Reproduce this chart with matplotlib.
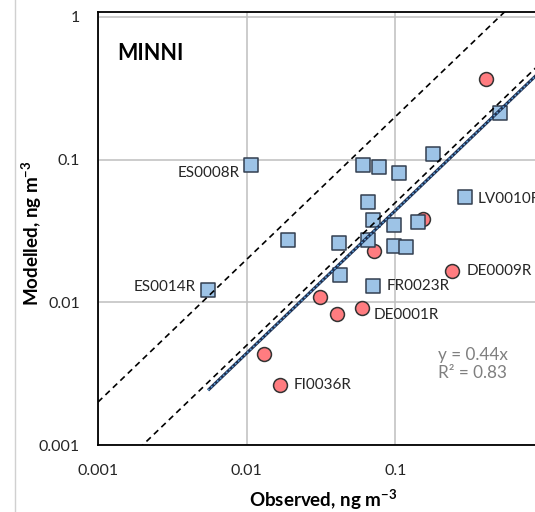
import numpy as np
import matplotlib.pyplot as plt
from matplotlib.lines import Line2D

plt.rcParams['font.family'] = ['Lato', 'DejaVu Sans']
plt.rcParams['mathtext.fontset'] = 'custom'
plt.rcParams['mathtext.rm'] = 'Lato'
plt.rcParams['mathtext.bf'] = 'Lato:bold'

# --- data: observed vs modelled, ng m-3 ---
obs_blue = [0.0107, 0.0605, 0.0777, 0.106, 0.179, 0.505, 0.0655, 0.0706, 0.098, 0.142,
            0.294, 0.019, 0.0418, 0.0655, 0.098, 0.118, 0.0055, 0.0424, 0.0706]
mod_blue = [0.0916, 0.0916, 0.0887, 0.0805, 0.109, 0.212, 0.0505, 0.0378, 0.0348, 0.0366,
            0.0547, 0.0274, 0.0261, 0.0274, 0.0248, 0.0244, 0.0122, 0.0155, 0.0130]
obs_red = [0.406, 0.153, 0.0718, 0.0311, 0.0405, 0.0595, 0.0131, 0.0168, 0.240]
mod_red = [0.367, 0.0384, 0.0229, 0.0109, 0.00828, 0.00912, 0.00434, 0.00263, 0.0166]

# labelled stations: (name, index, offset in points, alignment)
labels_blue = [('ES0008R', 0, (-8, -5.8), 'right'),
               ('LV0010R', 10, (9.4, -1.4), 'left'),
               ('ES0014R', 16, (-8.6, 2.2), 'right'),
               ('FR0023R', 18, (10, 0), 'left')]
labels_red = [('DE0001R', 5, (8.6, -5), 'left'),
              ('FI0036R', 7, (10, 0), 'left'),
              ('DE0009R', 8, (10.5, 0), 'left')]

slope = 0.44
r2 = 0.83

fig = plt.figure(figsize=(5.35, 5.12), dpi=100)
ax = fig.add_axes([98/535, 67/512, 446/535, 433/512])
ax.set_xscale('log')
ax.set_yscale('log')
ax.set_xlim(0.001, 1)
ax.set_ylim(0.001, 1.084)

# factor-of-2 lines
xx = np.array([0.0005, 2.0])
ax.plot(xx, 2*xx, color='black', ls=(0, (3.6, 2.6)), lw=1.2, zorder=5)
ax.plot(xx, 0.5*xx, color='black', ls=(0, (3.6, 2.6)), lw=1.2, zorder=5)

# trend line from min observed
xt = np.array([min(obs_blue + obs_red), 2.0])
ax.plot(xt, slope*xt, color='#1f3050', lw=2.2, zorder=5, solid_capstyle='butt')
ax.plot(xt, slope*xt, color='#5b9bd5', lw=1.2, ls=(0, (1, 1.5)), zorder=6)

ax.scatter(obs_red, mod_red, s=100, marker='o', c='#ff7c80', edgecolors='#333333',
           linewidths=1.1, zorder=3)
ax.scatter(obs_blue, mod_blue, s=95, marker='s', c='#9dc3e6', edgecolors='#333f50',
           linewidths=1.1, zorder=4)

for name, i, off, ha in labels_blue:
    ax.annotate(name, (obs_blue[i], mod_blue[i]), xytext=off, textcoords='offset points',
                ha=ha, va='center', fontsize=11, color='#262626')
for name, i, off, ha in labels_red:
    ax.annotate(name, (obs_red[i], mod_red[i]), xytext=off, textcoords='offset points',
                ha=ha, va='center', fontsize=11, color='#262626')

ax.text(0.194, 0.0037, 'y = %.2fx\nR² = %.2f' % (slope, r2), fontsize=12.3,
        color='#7f7f7f', ha='left', va='center', linespacing=1.2)

ax.grid(True, which='major', color='#bfbfbf', lw=1.1)
ax.set_axisbelow(True)
ax.minorticks_off()
ax.set_xticks([0.001, 0.01, 0.1])
ax.set_yticks([0.001, 0.01, 0.1, 1])
ax.set_xticklabels(['0.001', '0.01', '0.1'])
ax.set_yticklabels(['0.001', '0.01', '0.1', '1'])
ax.tick_params(length=0, labelsize=11.5, colors='#262626')
ax.tick_params(axis='x', pad=14)
ax.tick_params(axis='y', pad=13)
for s in ['left', 'bottom', 'top']:
    ax.spines[s].set_linewidth(1.3)
    ax.spines[s].set_color('black')
ax.spines['right'].set_visible(False)

ax.set_xlabel(r'Observed, ng m$^{\mathbf{-3}}$', fontsize=13.5, fontweight='bold', va='center')
ax.xaxis.set_label_coords(0.504, -0.125)
ax.set_ylabel(r'Modelled, ng m$^{\mathbf{-3}}$', fontsize=13.5, fontweight='bold', va='center')
ax.yaxis.set_label_coords(-0.150, 0.49)

fig.text(117/535, 1 - 54/512, 'MINNI', fontsize=15.5, fontweight='bold', va='center')

# page edge line on the left
fig.add_artist(Line2D([15/535, 15/535], [0, 1], color='#d0d0d0', lw=1))

fig.savefig('out.png', dpi=100)
